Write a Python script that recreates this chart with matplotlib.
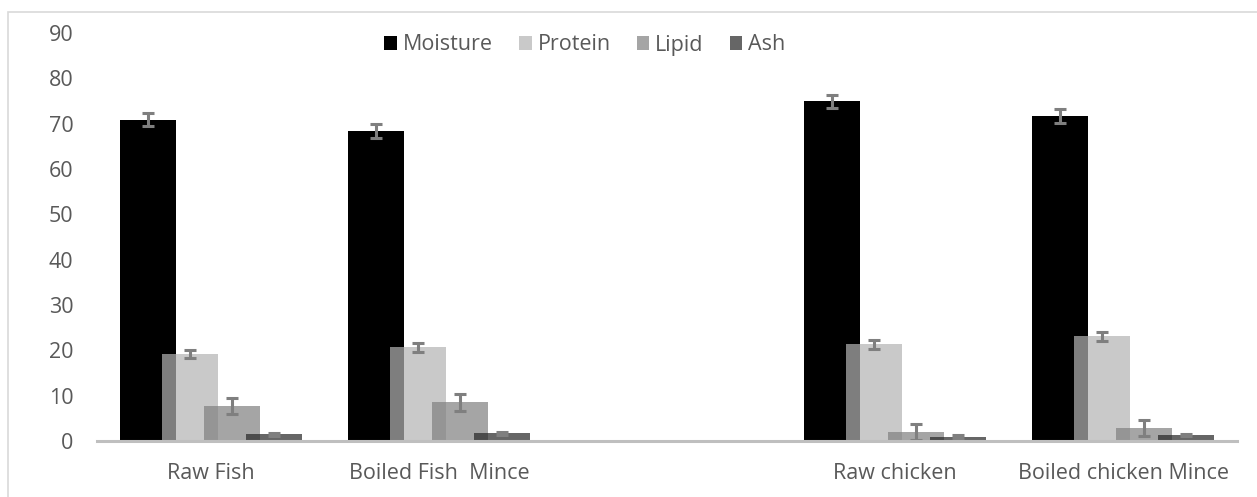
import numpy as np
import matplotlib.pyplot as plt
from matplotlib.patches import Rectangle

plt.rcParams['font.family'] = ['Open Sans', 'DejaVu Sans']

# datos (la 3a categoria va vacia, como en el original)
categorias = ['Raw Fish', 'Boiled Fish  Mince', '', 'Raw chicken', 'Boiled chicken Mince']
series = ['Moisture', 'Protein', 'Lipid', 'Ash']

moisture = [70.9, 68.4, np.nan, 74.9, 71.7]
protein = [19.1, 20.7, np.nan, 21.3, 23.1]
lipid = [7.7, 8.5, np.nan, 2.0, 2.9]
ash = [1.5, 1.7, np.nan, 0.95, 1.3]

moisture_err = [1.5, 1.5, np.nan, 1.5, 1.6]
protein_err = [0.9, 1.0, np.nan, 0.95, 0.95]
lipid_err = [1.8, 1.8, np.nan, 1.7, 1.8]
ash_err = [0.3, 0.3, np.nan, 0.3, 0.3]

valores = [moisture, protein, lipid, ash]
errores = [moisture_err, protein_err, lipid_err, ash_err]
colores = ['#000000', '#b3b3b3', '#808080', '#272727']
alphas = [1.0, 0.71, 0.71, 0.71]

fig = plt.figure(figsize=(12.57, 4.97), dpi=100)
ax = fig.add_axes([97/1257, 1 - 441/497, 1140/1257, 408/497])

# marco exterior
fig.patches.append(Rectangle((8/1257, -0.05), 1.1, 1 - 12/497 + 0.05,
                             transform=fig.transFigure, fill=False,
                             edgecolor='#d9d9d9', linewidth=1.2))

x = np.arange(len(categorias))
ancho = 0.2456
desplaz = [-0.276, -0.092, 0.092, 0.276]

for i, nombre in enumerate(series):
    ax.bar(x + desplaz[i], valores[i], width=ancho, color=colores[i],
           alpha=alphas[i], label=nombre, zorder=2 + i)
    ax.errorbar(x + desplaz[i], valores[i], yerr=errores[i], fmt='none',
                ecolor='#7f7f7f', elinewidth=2.2, capsize=4.3, capthick=2.2,
                zorder=2 + i + 0.5)

ax.set_xlim(-0.5, len(categorias) - 0.5)
ax.set_ylim(0, 90)
ax.set_yticks(np.arange(0, 91, 10))
ax.set_xticks(x)
ax.set_xticklabels(categorias)
ax.tick_params(axis='both', length=0, labelsize=15.5, colors='#595959')
ax.tick_params(axis='x', pad=16)
ax.tick_params(axis='y', pad=17)

for lado in ['top', 'right', 'left']:
    ax.spines[lado].set_visible(False)
ax.spines['bottom'].set_color('#bfbfbf')
ax.spines['bottom'].set_linewidth(2.2)
ax.spines['bottom'].set_zorder(10)

leg = ax.legend(loc='center', bbox_to_anchor=(585/1257, 1 - 45/497),
                bbox_transform=fig.transFigure, ncol=4, frameon=False,
                fontsize=15.5, handlelength=0.59, handleheight=0.59,
                handletextpad=0.28, columnspacing=1.2)
for t in leg.get_texts():
    t.set_color('#595959')

fig.savefig('out.png', dpi=100)
